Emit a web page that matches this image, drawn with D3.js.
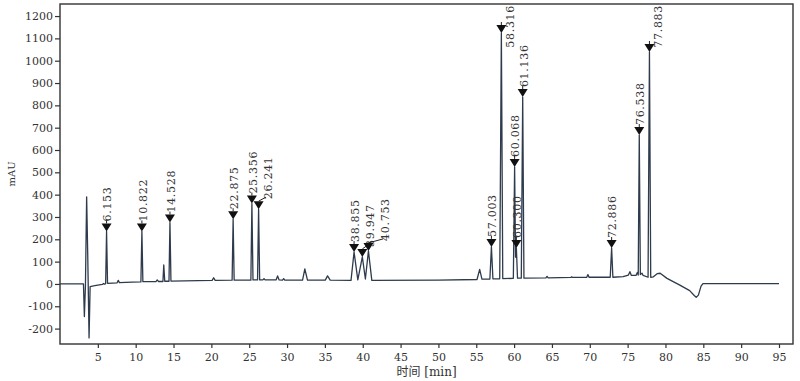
<!DOCTYPE html>
<html>
<head>
<meta charset="utf-8">
<script src="https://cdn.jsdelivr.net/npm/d3@7"></script>
<style>
  body { margin: 0; background: #fff; }
  svg text { font-family: "DejaVu Serif", "Noto Sans CJK SC", serif; fill: #333; }
</style>
</head>
<body>
<div id="chart"></div>
<script>
// detector trace, [time min, mAU]
var trace = [
  [0, 0], [3.1, 0], [3.22, -146], [3.36, -10], [3.52, 390], [3.66, 140], [3.84, -242], [3.98, -12],
  [4.6, -8], [5.2, -4], [5.6, -2], [5.75, 2], [5.9, -1],
  [6.03, 1], [6.153, 235], [6.28, 3],
  [7.55, 5], [7.7, 16], [7.85, 6], [9.5, 8],
  [10.69, 9], [10.822, 235], [10.95, 10],
  [12.7, 11], [12.85, 18], [13.0, 11],
  [13.6, 11], [13.71, 85], [13.84, 12],
  [14.4, 12], [14.528, 275], [14.66, 13],
  [20.1, 16], [20.3, 28], [20.5, 16],
  [22.74, 17], [22.875, 290], [23.01, 17],
  [25.22, 17], [25.356, 360], [25.5, 18], [26.1, 18], [26.241, 335], [26.38, 18],
  [26.8, 18], [26.95, 24], [27.1, 18],
  [28.55, 18], [28.75, 36], [28.95, 18],
  [29.4, 17], [29.55, 24], [29.7, 17],
  [32.05, 17], [32.35, 67], [32.7, 17],
  [35.05, 17], [35.35, 36], [35.7, 17],
  [38.45, 16], [38.855, 143], [39.35, 18], [39.947, 121], [40.35, 22], [40.753, 148], [41.2, 16],
  [50, 17],
  [55.1, 20], [55.45, 65], [55.75, 22],
  [56.8, 22], [57.003, 166], [57.2, 23],
  [58.1, 23], [58.316, 1124], [58.5, 24],
  [59.9, 25], [60.068, 524], [60.19, 120], [60.3, 161], [60.45, 26],
  [60.95, 26], [61.136, 837], [61.3, 26],
  [64.2, 27], [64.35, 34], [64.5, 27],
  [67.5, 29], [67.6, 32], [67.7, 29],
  [69.6, 30], [69.75, 42], [69.9, 30],
  [72.7, 30], [72.886, 161], [73.05, 30],
  [74.4, 33], [75.1, 40], [75.3, 55], [75.5, 38], [76.1, 38], [76.3, 52], [76.4, 40],
  [76.538, 667], [76.68, 42], [76.9, 48], [77.05, 38],
  [77.7, 30], [77.883, 1039], [78.05, 30], [78.4, 32],
  [78.9, 46], [79.3, 48], [80.2, 25], [81.9, -5], [83.2, -30], [83.8, -52], [84.06, -60],
  [84.35, -50], [84.7, -10], [84.95, 1], [95, 1]
];

// labelled peaks
var peakTimes = [6.153, 10.822, 14.528, 22.875, 25.356, 26.241, 38.855, 39.947, 40.753,
                 57.003, 58.316, 60.068, 60.300, 61.136, 72.886, 76.538, 77.883];
var peakHeights = [235, 235, 275, 290, 360, 335, 143, 121, 148,
                   166, 1124, 524, 161, 837, 161, 667, 1039];
var peakLabels = ["6.153", "10.822", "14.528", "22.875", "25.356", "26.241", "38.855", "39.947", "40.753",
                  "57.003", "58.316", "60.068", "60.300", "61.136", "72.886", "76.538", "77.883"];

var xTicks = [5, 10, 15, 20, 25, 30, 35, 40, 45, 50, 55, 60, 65, 70, 75, 80, 85, 90, 95];
var yTicks = [-200, -100, 0, 100, 200, 300, 400, 500, 600, 700, 800, 900, 1000, 1100, 1200];

var width = 800, height = 381;
var margin = {top: 4, right: 7, bottom: 37, left: 60};
var plotW = width - margin.left - margin.right;
var plotH = height - margin.top - margin.bottom;

var svg = d3.select("#chart").append("svg")
  .attr("width", width)
  .attr("height", height);

var g = svg.append("g")
  .attr("transform", `translate(${margin.left},${margin.top})`);

var x = d3.scaleLinear().domain([0, 96.85]).range([0, plotW]);
var y = d3.scaleLinear().domain([-269, 1254]).range([plotH, 0]);

// axes
var xAxis = g.append("g")
  .attr("transform", `translate(0,${plotH})`)
  .call(d3.axisBottom(x).tickValues(xTicks).tickSize(4).tickPadding(5).tickFormat(d3.format("d")));
var yAxis = g.append("g")
  .call(d3.axisLeft(y).tickValues(yTicks).tickSize(5).tickPadding(2).tickFormat(d3.format("d")));

[xAxis, yAxis].forEach(function(a) {
  a.select(".domain").remove();
  a.selectAll("line").attr("stroke", "#333").attr("stroke-width", 1.2);
  a.selectAll("text").style("font-size", "11px").attr("fill", "#333");
});
// use a real minus-looking hyphen like the original
yAxis.selectAll("text").text(function(d) { return d < 0 ? "-" + Math.abs(d) : d; });

// frame
g.append("rect")
  .attr("width", plotW)
  .attr("height", plotH)
  .attr("fill", "none")
  .attr("stroke", "#333")
  .attr("stroke-width", 1.4);

// trace
var line = d3.line()
  .x(d => x(d[0]))
  .y(d => y(d[1]));

g.append("path")
  .datum(trace)
  .attr("d", line)
  .attr("fill", "none")
  .attr("stroke", "#2e3b4c")
  .attr("stroke-width", 1.3)
  .attr("stroke-linejoin", "round");

// peak markers and labels
var placed = [];
peakTimes.forEach(function(t, i) {
  var px = x(t), py = y(peakHeights[i]);

  g.append("path")
    .attr("d", `M${px - 5},${py - 8}L${px + 5},${py - 8}L${px},${py}Z`)
    .attr("fill", "#111");

  var lbl = g.append("text")
    .attr("dy", "0.35em")
    .style("font-size", "11px")
    .style("letter-spacing", "0.7px")
    .attr("fill", "#333")
    .text(peakLabels[i]);
  var len = lbl.node().getComputedTextLength();

  var lx = px + 1, ly = py - 10;
  var shifted = false;
  if (ly - len < 1) {          // would run past the top: push right and down
    lx = px + 9;
    ly = 1 + len;
  }
  // keep neighbours from overlapping
  var moved = true;
  while (moved) {
    moved = false;
    placed.forEach(function(p) {
      var vOverlap = !(ly - len > p.bottom || ly < p.top);
      if (vOverlap && Math.abs(lx - p.x) < 13) {
        lx = p.x + 15;
        shifted = true;
        moved = true;
      }
    });
  }
  placed.push({x: lx, top: ly - len, bottom: ly});

  lbl.attr("transform", `translate(${lx},${ly}) rotate(-90)`);

  if (shifted) {
    g.append("line")
      .attr("x1", px).attr("y1", py - 8)
      .attr("x2", lx - 2).attr("y2", ly - 2)
      .attr("stroke", "#222").attr("stroke-width", 1);
  } else {
    g.append("line")
      .attr("x1", px).attr("y1", py - 8)
      .attr("x2", px).attr("y2", py - 11)
      .attr("stroke", "#222").attr("stroke-width", 1);
  }
});

// axis titles
svg.append("text")
  .attr("transform", `translate(15,${margin.top + plotH / 2}) rotate(-90)`)
  .attr("text-anchor", "middle")
  .style("font-size", "10px")
  .text("mAU");

svg.append("text")
  .attr("x", margin.left + plotW / 2)
  .attr("y", 376)
  .attr("text-anchor", "middle")
  .style("font-size", "12px")
  .text("时间 [min]");
</script>
</body>
</html>
